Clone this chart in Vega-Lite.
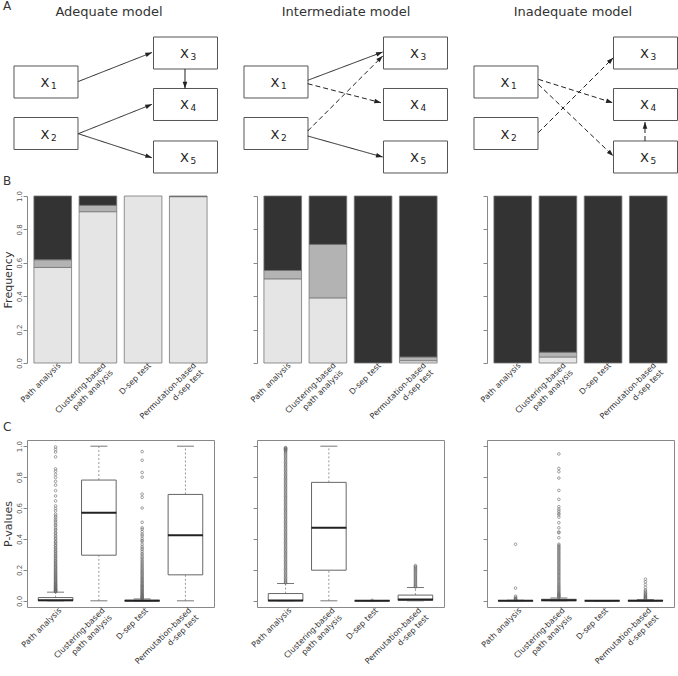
{
  "$schema": "https://vega.github.io/schema/vega-lite/v6.json",
  "background": "white",
  "padding": {"left": 1, "top": 0, "right": 0, "bottom": 0},
  "title": {"text": "A", "anchor": "start", "frame": "group", "dx": -24, "offset": -12, "fontSize": 12, "fontWeight": "normal", "color": "#333"},
  "columns": 3,
  "spacing": {"row": 77, "column": 43},
  "bounds": "flush",
  "align": "each",
  "datasets": {
    "nodes": [
      {"node": "X1", "var": "X", "sub": "1", "x": 10.16, "y": 68.64},
      {"node": "X2", "var": "X", "sub": "2", "x": 10.16, "y": 112.29},
      {"node": "X3", "var": "X", "sub": "3", "x": 84.76, "y": 44.07},
      {"node": "X4", "var": "X", "sub": "4", "x": 84.76, "y": 87.71},
      {"node": "X5", "var": "X", "sub": "5", "x": 84.76, "y": 132.2}
    ],
    "edges": [
      {"model": "Adequate", "from": "X1", "to": "X3", "x": 27.43, "y": 68.22, "x2": 66.84, "y2": 43.64, "style": "solid", "angle": 68.5},
      {"model": "Adequate", "from": "X2", "to": "X4", "x": 27.43, "y": 112.46, "x2": 66.84, "y2": 87.54, "style": "solid", "angle": 68.2},
      {"model": "Adequate", "from": "X2", "to": "X5", "x": 27.43, "y": 112.46, "x2": 66.84, "y2": 132.8, "style": "solid", "angle": 108.0},
      {"model": "Adequate", "from": "X3", "to": "X4", "x": 84.49, "y": 57.63, "x2": 84.49, "y2": 74.15, "style": "solid", "angle": 180},
      {"model": "Intermediate", "from": "X1", "to": "X3", "x": 27.11, "y": 67.2, "x2": 67.22, "y2": 43.22, "style": "solid", "angle": 69.3},
      {"model": "Intermediate", "from": "X1", "to": "X4", "x": 27.11, "y": 70.08, "x2": 66.31, "y2": 86.19, "style": "dashed", "angle": 104.5},
      {"model": "Intermediate", "from": "X2", "to": "X3", "x": 27.11, "y": 110.17, "x2": 67.22, "y2": 46.61, "style": "dashed", "angle": 45},
      {"model": "Intermediate", "from": "X2", "to": "X5", "x": 27.11, "y": 114.41, "x2": 67.22, "y2": 132.2, "style": "solid", "angle": 105.6},
      {"model": "Inadequate", "from": "X1", "to": "X4", "x": 27.43, "y": 66.36, "x2": 67.22, "y2": 86.19, "style": "dashed", "angle": 107.5},
      {"model": "Inadequate", "from": "X1", "to": "X5", "x": 27.43, "y": 70.59, "x2": 67.54, "y2": 131.36, "style": "dashed", "angle": 133.7},
      {"model": "Inadequate", "from": "X2", "to": "X3", "x": 27.43, "y": 111.61, "x2": 67.54, "y2": 48.05, "style": "dashed", "angle": 45},
      {"model": "Inadequate", "from": "X5", "to": "X4", "x": 84.49, "y": 118.64, "x2": 84.49, "y2": 102.54, "style": "dashed", "angle": 0}
    ],
    "freq": [
      {"model": "Adequate", "method": "Path analysis", "outcome": "Accepted", "freq": 0.572},
      {"model": "Adequate", "method": "Path analysis", "outcome": "Borderline", "freq": 0.046},
      {"model": "Adequate", "method": "Path analysis", "outcome": "Rejected", "freq": 0.382},
      {"model": "Adequate", "method": "Clustering-based path analysis", "outcome": "Accepted", "freq": 0.906},
      {"model": "Adequate", "method": "Clustering-based path analysis", "outcome": "Borderline", "freq": 0.038},
      {"model": "Adequate", "method": "Clustering-based path analysis", "outcome": "Rejected", "freq": 0.056},
      {"model": "Adequate", "method": "D-sep test", "outcome": "Accepted", "freq": 1.0},
      {"model": "Adequate", "method": "Permutation-based d-sep test", "outcome": "Accepted", "freq": 0.996},
      {"model": "Adequate", "method": "Permutation-based d-sep test", "outcome": "Rejected", "freq": 0.004},
      {"model": "Intermediate", "method": "Path analysis", "outcome": "Accepted", "freq": 0.504},
      {"model": "Intermediate", "method": "Path analysis", "outcome": "Borderline", "freq": 0.05},
      {"model": "Intermediate", "method": "Path analysis", "outcome": "Rejected", "freq": 0.446},
      {"model": "Intermediate", "method": "Clustering-based path analysis", "outcome": "Accepted", "freq": 0.39},
      {"model": "Intermediate", "method": "Clustering-based path analysis", "outcome": "Borderline", "freq": 0.32},
      {"model": "Intermediate", "method": "Clustering-based path analysis", "outcome": "Rejected", "freq": 0.29},
      {"model": "Intermediate", "method": "D-sep test", "outcome": "Rejected", "freq": 1.0},
      {"model": "Intermediate", "method": "Permutation-based d-sep test", "outcome": "Accepted", "freq": 0.014},
      {"model": "Intermediate", "method": "Permutation-based d-sep test", "outcome": "Borderline", "freq": 0.022},
      {"model": "Intermediate", "method": "Permutation-based d-sep test", "outcome": "Rejected", "freq": 0.964},
      {"model": "Inadequate", "method": "Path analysis", "outcome": "Rejected", "freq": 1.0},
      {"model": "Inadequate", "method": "Clustering-based path analysis", "outcome": "Accepted", "freq": 0.036},
      {"model": "Inadequate", "method": "Clustering-based path analysis", "outcome": "Borderline", "freq": 0.028},
      {"model": "Inadequate", "method": "Clustering-based path analysis", "outcome": "Rejected", "freq": 0.936},
      {"model": "Inadequate", "method": "D-sep test", "outcome": "Rejected", "freq": 1.0},
      {"model": "Inadequate", "method": "Permutation-based d-sep test", "outcome": "Rejected", "freq": 1.0}
    ],
    "box": [
      {"model": "Adequate", "method": "Path analysis", "lower": 0, "q1": 0.001, "median": 0.004, "q3": 0.021, "upper": 0.056},
      {"model": "Adequate", "method": "Clustering-based path analysis", "lower": 0, "q1": 0.295, "median": 0.57, "q3": 0.781, "upper": 1.0},
      {"model": "Adequate", "method": "D-sep test", "lower": 0, "q1": 0.0, "median": 0.001, "q3": 0.004, "upper": 0.012},
      {"model": "Adequate", "method": "Permutation-based d-sep test", "lower": 0, "q1": 0.168, "median": 0.424, "q3": 0.688, "upper": 1.0},
      {"model": "Intermediate", "method": "Path analysis", "lower": 0, "q1": 0.0, "median": 0.002, "q3": 0.047, "upper": 0.112},
      {"model": "Intermediate", "method": "Clustering-based path analysis", "lower": 0, "q1": 0.198, "median": 0.473, "q3": 0.766, "upper": 1.0},
      {"model": "Intermediate", "method": "D-sep test", "lower": 0, "q1": 0, "median": 0, "q3": 0.001, "upper": 0.002},
      {"model": "Intermediate", "method": "Permutation-based d-sep test", "lower": 0, "q1": 0.003, "median": 0.009, "q3": 0.037, "upper": 0.086},
      {"model": "Inadequate", "method": "Path analysis", "lower": 0, "q1": 0, "median": 0, "q3": 0.002, "upper": 0.004},
      {"model": "Inadequate", "method": "Clustering-based path analysis", "lower": 0, "q1": 0.001, "median": 0.004, "q3": 0.01, "upper": 0.019},
      {"model": "Inadequate", "method": "D-sep test", "lower": 0, "q1": 0, "median": 0, "q3": 0, "upper": 0},
      {"model": "Inadequate", "method": "Permutation-based d-sep test", "lower": 0, "q1": 0, "median": 0.001, "q3": 0.003, "upper": 0.008}
    ],
    "outliers": [
      {"model": "Adequate", "method": "Path analysis", "p": 0.995},
      {"model": "Adequate", "method": "Path analysis", "p": 0.979},
      {"model": "Adequate", "method": "Path analysis", "p": 0.962},
      {"model": "Adequate", "method": "Path analysis", "p": 0.931},
      {"model": "Adequate", "method": "Path analysis", "p": 0.853},
      {"model": "Adequate", "method": "Path analysis", "p": 0.838},
      {"model": "Adequate", "method": "Path analysis", "p": 0.818},
      {"model": "Adequate", "method": "Path analysis", "p": 0.797},
      {"model": "Adequate", "method": "Path analysis", "p": 0.772},
      {"model": "Adequate", "method": "Path analysis", "p": 0.748},
      {"model": "Adequate", "method": "Path analysis", "p": 0.713},
      {"model": "Adequate", "method": "Path analysis", "p": 0.678},
      {"model": "Adequate", "method": "Path analysis", "p": 0.646},
      {"model": "Adequate", "method": "Path analysis", "p": 0.614},
      {"model": "Adequate", "method": "Path analysis", "p": 0.597},
      {"model": "Adequate", "method": "Path analysis", "p": 0.582},
      {"model": "Adequate", "method": "Path analysis", "p": 0.561},
      {"model": "Adequate", "method": "Path analysis", "p": 0.548},
      {"model": "Adequate", "method": "Path analysis", "p": 0.539},
      {"model": "Adequate", "method": "Path analysis", "p": 0.526},
      {"model": "Adequate", "method": "Path analysis", "p": 0.517},
      {"model": "Adequate", "method": "Path analysis", "p": 0.506},
      {"model": "Adequate", "method": "Path analysis", "p": 0.494},
      {"model": "Adequate", "method": "Path analysis", "p": 0.486},
      {"model": "Adequate", "method": "Path analysis", "p": 0.473},
      {"model": "Adequate", "method": "Path analysis", "p": 0.462},
      {"model": "Adequate", "method": "Path analysis", "p": 0.455},
      {"model": "Adequate", "method": "Path analysis", "p": 0.441},
      {"model": "Adequate", "method": "Path analysis", "p": 0.436},
      {"model": "Adequate", "method": "Path analysis", "p": 0.423},
      {"model": "Adequate", "method": "Path analysis", "p": 0.416},
      {"model": "Adequate", "method": "Path analysis", "p": 0.404},
      {"model": "Adequate", "method": "Path analysis", "p": 0.398},
      {"model": "Adequate", "method": "Path analysis", "p": 0.386},
      {"model": "Adequate", "method": "Path analysis", "p": 0.379},
      {"model": "Adequate", "method": "Path analysis", "p": 0.372},
      {"model": "Adequate", "method": "Path analysis", "p": 0.361},
      {"model": "Adequate", "method": "Path analysis", "p": 0.356},
      {"model": "Adequate", "method": "Path analysis", "p": 0.345},
      {"model": "Adequate", "method": "Path analysis", "p": 0.339},
      {"model": "Adequate", "method": "Path analysis", "p": 0.332},
      {"model": "Adequate", "method": "Path analysis", "p": 0.322},
      {"model": "Adequate", "method": "Path analysis", "p": 0.317},
      {"model": "Adequate", "method": "Path analysis", "p": 0.308},
      {"model": "Adequate", "method": "Path analysis", "p": 0.302},
      {"model": "Adequate", "method": "Path analysis", "p": 0.293},
      {"model": "Adequate", "method": "Path analysis", "p": 0.288},
      {"model": "Adequate", "method": "Path analysis", "p": 0.279},
      {"model": "Adequate", "method": "Path analysis", "p": 0.274},
      {"model": "Adequate", "method": "Path analysis", "p": 0.265},
      {"model": "Adequate", "method": "Path analysis", "p": 0.258},
      {"model": "Adequate", "method": "Path analysis", "p": 0.254},
      {"model": "Adequate", "method": "Path analysis", "p": 0.245},
      {"model": "Adequate", "method": "Path analysis", "p": 0.24},
      {"model": "Adequate", "method": "Path analysis", "p": 0.232},
      {"model": "Adequate", "method": "Path analysis", "p": 0.228},
      {"model": "Adequate", "method": "Path analysis", "p": 0.22},
      {"model": "Adequate", "method": "Path analysis", "p": 0.214},
      {"model": "Adequate", "method": "Path analysis", "p": 0.21},
      {"model": "Adequate", "method": "Path analysis", "p": 0.203},
      {"model": "Adequate", "method": "Path analysis", "p": 0.196},
      {"model": "Adequate", "method": "Path analysis", "p": 0.192},
      {"model": "Adequate", "method": "Path analysis", "p": 0.185},
      {"model": "Adequate", "method": "Path analysis", "p": 0.181},
      {"model": "Adequate", "method": "Path analysis", "p": 0.174},
      {"model": "Adequate", "method": "Path analysis", "p": 0.17},
      {"model": "Adequate", "method": "Path analysis", "p": 0.163},
      {"model": "Adequate", "method": "Path analysis", "p": 0.16},
      {"model": "Adequate", "method": "Path analysis", "p": 0.153},
      {"model": "Adequate", "method": "Path analysis", "p": 0.149},
      {"model": "Adequate", "method": "Path analysis", "p": 0.143},
      {"model": "Adequate", "method": "Path analysis", "p": 0.139},
      {"model": "Adequate", "method": "Path analysis", "p": 0.135},
      {"model": "Adequate", "method": "Path analysis", "p": 0.128},
      {"model": "Adequate", "method": "Path analysis", "p": 0.124},
      {"model": "Adequate", "method": "Path analysis", "p": 0.121},
      {"model": "Adequate", "method": "Path analysis", "p": 0.115},
      {"model": "Adequate", "method": "Path analysis", "p": 0.111},
      {"model": "Adequate", "method": "Path analysis", "p": 0.107},
      {"model": "Adequate", "method": "Path analysis", "p": 0.103},
      {"model": "Adequate", "method": "Path analysis", "p": 0.099},
      {"model": "Adequate", "method": "Path analysis", "p": 0.095},
      {"model": "Adequate", "method": "Path analysis", "p": 0.091},
      {"model": "Adequate", "method": "Path analysis", "p": 0.088},
      {"model": "Adequate", "method": "Path analysis", "p": 0.084},
      {"model": "Adequate", "method": "Path analysis", "p": 0.08},
      {"model": "Adequate", "method": "Path analysis", "p": 0.077},
      {"model": "Adequate", "method": "Path analysis", "p": 0.074},
      {"model": "Adequate", "method": "Path analysis", "p": 0.071},
      {"model": "Adequate", "method": "Path analysis", "p": 0.068},
      {"model": "Adequate", "method": "Path analysis", "p": 0.065},
      {"model": "Adequate", "method": "Path analysis", "p": 0.062},
      {"model": "Adequate", "method": "Path analysis", "p": 0.06},
      {"model": "Adequate", "method": "Path analysis", "p": 0.058},
      {"model": "Adequate", "method": "D-sep test", "p": 0.965},
      {"model": "Adequate", "method": "D-sep test", "p": 0.909},
      {"model": "Adequate", "method": "D-sep test", "p": 0.83},
      {"model": "Adequate", "method": "D-sep test", "p": 0.8},
      {"model": "Adequate", "method": "D-sep test", "p": 0.69},
      {"model": "Adequate", "method": "D-sep test", "p": 0.669},
      {"model": "Adequate", "method": "D-sep test", "p": 0.6},
      {"model": "Adequate", "method": "D-sep test", "p": 0.508},
      {"model": "Adequate", "method": "D-sep test", "p": 0.472},
      {"model": "Adequate", "method": "D-sep test", "p": 0.463},
      {"model": "Adequate", "method": "D-sep test", "p": 0.447},
      {"model": "Adequate", "method": "D-sep test", "p": 0.431},
      {"model": "Adequate", "method": "D-sep test", "p": 0.42},
      {"model": "Adequate", "method": "D-sep test", "p": 0.404},
      {"model": "Adequate", "method": "D-sep test", "p": 0.391},
      {"model": "Adequate", "method": "D-sep test", "p": 0.383},
      {"model": "Adequate", "method": "D-sep test", "p": 0.366},
      {"model": "Adequate", "method": "D-sep test", "p": 0.352},
      {"model": "Adequate", "method": "D-sep test", "p": 0.341},
      {"model": "Adequate", "method": "D-sep test", "p": 0.33},
      {"model": "Adequate", "method": "D-sep test", "p": 0.318},
      {"model": "Adequate", "method": "D-sep test", "p": 0.305},
      {"model": "Adequate", "method": "D-sep test", "p": 0.297},
      {"model": "Adequate", "method": "D-sep test", "p": 0.284},
      {"model": "Adequate", "method": "D-sep test", "p": 0.276},
      {"model": "Adequate", "method": "D-sep test", "p": 0.265},
      {"model": "Adequate", "method": "D-sep test", "p": 0.256},
      {"model": "Adequate", "method": "D-sep test", "p": 0.247},
      {"model": "Adequate", "method": "D-sep test", "p": 0.238},
      {"model": "Adequate", "method": "D-sep test", "p": 0.229},
      {"model": "Adequate", "method": "D-sep test", "p": 0.221},
      {"model": "Adequate", "method": "D-sep test", "p": 0.212},
      {"model": "Adequate", "method": "D-sep test", "p": 0.204},
      {"model": "Adequate", "method": "D-sep test", "p": 0.197},
      {"model": "Adequate", "method": "D-sep test", "p": 0.188},
      {"model": "Adequate", "method": "D-sep test", "p": 0.182},
      {"model": "Adequate", "method": "D-sep test", "p": 0.174},
      {"model": "Adequate", "method": "D-sep test", "p": 0.167},
      {"model": "Adequate", "method": "D-sep test", "p": 0.159},
      {"model": "Adequate", "method": "D-sep test", "p": 0.152},
      {"model": "Adequate", "method": "D-sep test", "p": 0.146},
      {"model": "Adequate", "method": "D-sep test", "p": 0.139},
      {"model": "Adequate", "method": "D-sep test", "p": 0.132},
      {"model": "Adequate", "method": "D-sep test", "p": 0.126},
      {"model": "Adequate", "method": "D-sep test", "p": 0.12},
      {"model": "Adequate", "method": "D-sep test", "p": 0.113},
      {"model": "Adequate", "method": "D-sep test", "p": 0.107},
      {"model": "Adequate", "method": "D-sep test", "p": 0.101},
      {"model": "Adequate", "method": "D-sep test", "p": 0.096},
      {"model": "Adequate", "method": "D-sep test", "p": 0.09},
      {"model": "Adequate", "method": "D-sep test", "p": 0.085},
      {"model": "Adequate", "method": "D-sep test", "p": 0.079},
      {"model": "Adequate", "method": "D-sep test", "p": 0.074},
      {"model": "Adequate", "method": "D-sep test", "p": 0.069},
      {"model": "Adequate", "method": "D-sep test", "p": 0.064},
      {"model": "Adequate", "method": "D-sep test", "p": 0.059},
      {"model": "Adequate", "method": "D-sep test", "p": 0.054},
      {"model": "Adequate", "method": "D-sep test", "p": 0.049},
      {"model": "Adequate", "method": "D-sep test", "p": 0.045},
      {"model": "Adequate", "method": "D-sep test", "p": 0.04},
      {"model": "Adequate", "method": "D-sep test", "p": 0.036},
      {"model": "Adequate", "method": "D-sep test", "p": 0.032},
      {"model": "Adequate", "method": "D-sep test", "p": 0.028},
      {"model": "Adequate", "method": "D-sep test", "p": 0.024},
      {"model": "Adequate", "method": "D-sep test", "p": 0.021},
      {"model": "Adequate", "method": "D-sep test", "p": 0.018},
      {"model": "Adequate", "method": "D-sep test", "p": 0.015},
      {"model": "Adequate", "method": "D-sep test", "p": 0.013},
      {"model": "Intermediate", "method": "Path analysis", "p": 0.991},
      {"model": "Intermediate", "method": "Path analysis", "p": 0.988},
      {"model": "Intermediate", "method": "Path analysis", "p": 0.985},
      {"model": "Intermediate", "method": "Path analysis", "p": 0.981},
      {"model": "Intermediate", "method": "Path analysis", "p": 0.978},
      {"model": "Intermediate", "method": "Path analysis", "p": 0.974},
      {"model": "Intermediate", "method": "Path analysis", "p": 0.969},
      {"model": "Intermediate", "method": "Path analysis", "p": 0.962},
      {"model": "Intermediate", "method": "Path analysis", "p": 0.955},
      {"model": "Intermediate", "method": "Path analysis", "p": 0.946},
      {"model": "Intermediate", "method": "Path analysis", "p": 0.938},
      {"model": "Intermediate", "method": "Path analysis", "p": 0.929},
      {"model": "Intermediate", "method": "Path analysis", "p": 0.921},
      {"model": "Intermediate", "method": "Path analysis", "p": 0.912},
      {"model": "Intermediate", "method": "Path analysis", "p": 0.903},
      {"model": "Intermediate", "method": "Path analysis", "p": 0.895},
      {"model": "Intermediate", "method": "Path analysis", "p": 0.886},
      {"model": "Intermediate", "method": "Path analysis", "p": 0.878},
      {"model": "Intermediate", "method": "Path analysis", "p": 0.869},
      {"model": "Intermediate", "method": "Path analysis", "p": 0.861},
      {"model": "Intermediate", "method": "Path analysis", "p": 0.852},
      {"model": "Intermediate", "method": "Path analysis", "p": 0.844},
      {"model": "Intermediate", "method": "Path analysis", "p": 0.835},
      {"model": "Intermediate", "method": "Path analysis", "p": 0.826},
      {"model": "Intermediate", "method": "Path analysis", "p": 0.818},
      {"model": "Intermediate", "method": "Path analysis", "p": 0.809},
      {"model": "Intermediate", "method": "Path analysis", "p": 0.801},
      {"model": "Intermediate", "method": "Path analysis", "p": 0.792},
      {"model": "Intermediate", "method": "Path analysis", "p": 0.784},
      {"model": "Intermediate", "method": "Path analysis", "p": 0.776},
      {"model": "Intermediate", "method": "Path analysis", "p": 0.767},
      {"model": "Intermediate", "method": "Path analysis", "p": 0.759},
      {"model": "Intermediate", "method": "Path analysis", "p": 0.75},
      {"model": "Intermediate", "method": "Path analysis", "p": 0.742},
      {"model": "Intermediate", "method": "Path analysis", "p": 0.733},
      {"model": "Intermediate", "method": "Path analysis", "p": 0.725},
      {"model": "Intermediate", "method": "Path analysis", "p": 0.716},
      {"model": "Intermediate", "method": "Path analysis", "p": 0.708},
      {"model": "Intermediate", "method": "Path analysis", "p": 0.699},
      {"model": "Intermediate", "method": "Path analysis", "p": 0.691},
      {"model": "Intermediate", "method": "Path analysis", "p": 0.682},
      {"model": "Intermediate", "method": "Path analysis", "p": 0.674},
      {"model": "Intermediate", "method": "Path analysis", "p": 0.666},
      {"model": "Intermediate", "method": "Path analysis", "p": 0.657},
      {"model": "Intermediate", "method": "Path analysis", "p": 0.649},
      {"model": "Intermediate", "method": "Path analysis", "p": 0.64},
      {"model": "Intermediate", "method": "Path analysis", "p": 0.632},
      {"model": "Intermediate", "method": "Path analysis", "p": 0.623},
      {"model": "Intermediate", "method": "Path analysis", "p": 0.615},
      {"model": "Intermediate", "method": "Path analysis", "p": 0.606},
      {"model": "Intermediate", "method": "Path analysis", "p": 0.598},
      {"model": "Intermediate", "method": "Path analysis", "p": 0.589},
      {"model": "Intermediate", "method": "Path analysis", "p": 0.581},
      {"model": "Intermediate", "method": "Path analysis", "p": 0.573},
      {"model": "Intermediate", "method": "Path analysis", "p": 0.564},
      {"model": "Intermediate", "method": "Path analysis", "p": 0.556},
      {"model": "Intermediate", "method": "Path analysis", "p": 0.547},
      {"model": "Intermediate", "method": "Path analysis", "p": 0.539},
      {"model": "Intermediate", "method": "Path analysis", "p": 0.53},
      {"model": "Intermediate", "method": "Path analysis", "p": 0.522},
      {"model": "Intermediate", "method": "Path analysis", "p": 0.513},
      {"model": "Intermediate", "method": "Path analysis", "p": 0.505},
      {"model": "Intermediate", "method": "Path analysis", "p": 0.497},
      {"model": "Intermediate", "method": "Path analysis", "p": 0.488},
      {"model": "Intermediate", "method": "Path analysis", "p": 0.48},
      {"model": "Intermediate", "method": "Path analysis", "p": 0.471},
      {"model": "Intermediate", "method": "Path analysis", "p": 0.463},
      {"model": "Intermediate", "method": "Path analysis", "p": 0.454},
      {"model": "Intermediate", "method": "Path analysis", "p": 0.446},
      {"model": "Intermediate", "method": "Path analysis", "p": 0.437},
      {"model": "Intermediate", "method": "Path analysis", "p": 0.429},
      {"model": "Intermediate", "method": "Path analysis", "p": 0.421},
      {"model": "Intermediate", "method": "Path analysis", "p": 0.412},
      {"model": "Intermediate", "method": "Path analysis", "p": 0.404},
      {"model": "Intermediate", "method": "Path analysis", "p": 0.395},
      {"model": "Intermediate", "method": "Path analysis", "p": 0.387},
      {"model": "Intermediate", "method": "Path analysis", "p": 0.378},
      {"model": "Intermediate", "method": "Path analysis", "p": 0.37},
      {"model": "Intermediate", "method": "Path analysis", "p": 0.362},
      {"model": "Intermediate", "method": "Path analysis", "p": 0.353},
      {"model": "Intermediate", "method": "Path analysis", "p": 0.345},
      {"model": "Intermediate", "method": "Path analysis", "p": 0.336},
      {"model": "Intermediate", "method": "Path analysis", "p": 0.328},
      {"model": "Intermediate", "method": "Path analysis", "p": 0.319},
      {"model": "Intermediate", "method": "Path analysis", "p": 0.311},
      {"model": "Intermediate", "method": "Path analysis", "p": 0.303},
      {"model": "Intermediate", "method": "Path analysis", "p": 0.294},
      {"model": "Intermediate", "method": "Path analysis", "p": 0.286},
      {"model": "Intermediate", "method": "Path analysis", "p": 0.277},
      {"model": "Intermediate", "method": "Path analysis", "p": 0.269},
      {"model": "Intermediate", "method": "Path analysis", "p": 0.26},
      {"model": "Intermediate", "method": "Path analysis", "p": 0.252},
      {"model": "Intermediate", "method": "Path analysis", "p": 0.244},
      {"model": "Intermediate", "method": "Path analysis", "p": 0.235},
      {"model": "Intermediate", "method": "Path analysis", "p": 0.227},
      {"model": "Intermediate", "method": "Path analysis", "p": 0.218},
      {"model": "Intermediate", "method": "Path analysis", "p": 0.21},
      {"model": "Intermediate", "method": "Path analysis", "p": 0.202},
      {"model": "Intermediate", "method": "Path analysis", "p": 0.193},
      {"model": "Intermediate", "method": "Path analysis", "p": 0.185},
      {"model": "Intermediate", "method": "Path analysis", "p": 0.176},
      {"model": "Intermediate", "method": "Path analysis", "p": 0.168},
      {"model": "Intermediate", "method": "Path analysis", "p": 0.16},
      {"model": "Intermediate", "method": "Path analysis", "p": 0.151},
      {"model": "Intermediate", "method": "Path analysis", "p": 0.143},
      {"model": "Intermediate", "method": "Path analysis", "p": 0.135},
      {"model": "Intermediate", "method": "Path analysis", "p": 0.127},
      {"model": "Intermediate", "method": "Path analysis", "p": 0.12},
      {"model": "Intermediate", "method": "Path analysis", "p": 0.115},
      {"model": "Intermediate", "method": "D-sep test", "p": 0.003},
      {"model": "Intermediate", "method": "Permutation-based d-sep test", "p": 0.228},
      {"model": "Intermediate", "method": "Permutation-based d-sep test", "p": 0.222},
      {"model": "Intermediate", "method": "Permutation-based d-sep test", "p": 0.216},
      {"model": "Intermediate", "method": "Permutation-based d-sep test", "p": 0.21},
      {"model": "Intermediate", "method": "Permutation-based d-sep test", "p": 0.203},
      {"model": "Intermediate", "method": "Permutation-based d-sep test", "p": 0.197},
      {"model": "Intermediate", "method": "Permutation-based d-sep test", "p": 0.19},
      {"model": "Intermediate", "method": "Permutation-based d-sep test", "p": 0.183},
      {"model": "Intermediate", "method": "Permutation-based d-sep test", "p": 0.176},
      {"model": "Intermediate", "method": "Permutation-based d-sep test", "p": 0.169},
      {"model": "Intermediate", "method": "Permutation-based d-sep test", "p": 0.162},
      {"model": "Intermediate", "method": "Permutation-based d-sep test", "p": 0.155},
      {"model": "Intermediate", "method": "Permutation-based d-sep test", "p": 0.148},
      {"model": "Intermediate", "method": "Permutation-based d-sep test", "p": 0.141},
      {"model": "Intermediate", "method": "Permutation-based d-sep test", "p": 0.134},
      {"model": "Intermediate", "method": "Permutation-based d-sep test", "p": 0.127},
      {"model": "Intermediate", "method": "Permutation-based d-sep test", "p": 0.12},
      {"model": "Intermediate", "method": "Permutation-based d-sep test", "p": 0.113},
      {"model": "Intermediate", "method": "Permutation-based d-sep test", "p": 0.106},
      {"model": "Intermediate", "method": "Permutation-based d-sep test", "p": 0.099},
      {"model": "Intermediate", "method": "Permutation-based d-sep test", "p": 0.093},
      {"model": "Intermediate", "method": "Permutation-based d-sep test", "p": 0.089},
      {"model": "Inadequate", "method": "Path analysis", "p": 0.366},
      {"model": "Inadequate", "method": "Path analysis", "p": 0.082},
      {"model": "Inadequate", "method": "Path analysis", "p": 0.03},
      {"model": "Inadequate", "method": "Path analysis", "p": 0.022},
      {"model": "Inadequate", "method": "Path analysis", "p": 0.016},
      {"model": "Inadequate", "method": "Path analysis", "p": 0.012},
      {"model": "Inadequate", "method": "Path analysis", "p": 0.009},
      {"model": "Inadequate", "method": "Path analysis", "p": 0.007},
      {"model": "Inadequate", "method": "Clustering-based path analysis", "p": 0.95},
      {"model": "Inadequate", "method": "Clustering-based path analysis", "p": 0.856},
      {"model": "Inadequate", "method": "Clustering-based path analysis", "p": 0.835},
      {"model": "Inadequate", "method": "Clustering-based path analysis", "p": 0.794},
      {"model": "Inadequate", "method": "Clustering-based path analysis", "p": 0.714},
      {"model": "Inadequate", "method": "Clustering-based path analysis", "p": 0.656},
      {"model": "Inadequate", "method": "Clustering-based path analysis", "p": 0.609},
      {"model": "Inadequate", "method": "Clustering-based path analysis", "p": 0.593},
      {"model": "Inadequate", "method": "Clustering-based path analysis", "p": 0.58},
      {"model": "Inadequate", "method": "Clustering-based path analysis", "p": 0.566},
      {"model": "Inadequate", "method": "Clustering-based path analysis", "p": 0.557},
      {"model": "Inadequate", "method": "Clustering-based path analysis", "p": 0.541},
      {"model": "Inadequate", "method": "Clustering-based path analysis", "p": 0.505},
      {"model": "Inadequate", "method": "Clustering-based path analysis", "p": 0.472},
      {"model": "Inadequate", "method": "Clustering-based path analysis", "p": 0.445},
      {"model": "Inadequate", "method": "Clustering-based path analysis", "p": 0.44},
      {"model": "Inadequate", "method": "Clustering-based path analysis", "p": 0.408},
      {"model": "Inadequate", "method": "Clustering-based path analysis", "p": 0.366},
      {"model": "Inadequate", "method": "Clustering-based path analysis", "p": 0.358},
      {"model": "Inadequate", "method": "Clustering-based path analysis", "p": 0.35},
      {"model": "Inadequate", "method": "Clustering-based path analysis", "p": 0.343},
      {"model": "Inadequate", "method": "Clustering-based path analysis", "p": 0.335},
      {"model": "Inadequate", "method": "Clustering-based path analysis", "p": 0.327},
      {"model": "Inadequate", "method": "Clustering-based path analysis", "p": 0.318},
      {"model": "Inadequate", "method": "Clustering-based path analysis", "p": 0.31},
      {"model": "Inadequate", "method": "Clustering-based path analysis", "p": 0.302},
      {"model": "Inadequate", "method": "Clustering-based path analysis", "p": 0.294},
      {"model": "Inadequate", "method": "Clustering-based path analysis", "p": 0.285},
      {"model": "Inadequate", "method": "Clustering-based path analysis", "p": 0.277},
      {"model": "Inadequate", "method": "Clustering-based path analysis", "p": 0.269},
      {"model": "Inadequate", "method": "Clustering-based path analysis", "p": 0.261},
      {"model": "Inadequate", "method": "Clustering-based path analysis", "p": 0.252},
      {"model": "Inadequate", "method": "Clustering-based path analysis", "p": 0.244},
      {"model": "Inadequate", "method": "Clustering-based path analysis", "p": 0.236},
      {"model": "Inadequate", "method": "Clustering-based path analysis", "p": 0.228},
      {"model": "Inadequate", "method": "Clustering-based path analysis", "p": 0.219},
      {"model": "Inadequate", "method": "Clustering-based path analysis", "p": 0.211},
      {"model": "Inadequate", "method": "Clustering-based path analysis", "p": 0.203},
      {"model": "Inadequate", "method": "Clustering-based path analysis", "p": 0.195},
      {"model": "Inadequate", "method": "Clustering-based path analysis", "p": 0.186},
      {"model": "Inadequate", "method": "Clustering-based path analysis", "p": 0.178},
      {"model": "Inadequate", "method": "Clustering-based path analysis", "p": 0.17},
      {"model": "Inadequate", "method": "Clustering-based path analysis", "p": 0.162},
      {"model": "Inadequate", "method": "Clustering-based path analysis", "p": 0.153},
      {"model": "Inadequate", "method": "Clustering-based path analysis", "p": 0.145},
      {"model": "Inadequate", "method": "Clustering-based path analysis", "p": 0.137},
      {"model": "Inadequate", "method": "Clustering-based path analysis", "p": 0.129},
      {"model": "Inadequate", "method": "Clustering-based path analysis", "p": 0.12},
      {"model": "Inadequate", "method": "Clustering-based path analysis", "p": 0.112},
      {"model": "Inadequate", "method": "Clustering-based path analysis", "p": 0.104},
      {"model": "Inadequate", "method": "Clustering-based path analysis", "p": 0.096},
      {"model": "Inadequate", "method": "Clustering-based path analysis", "p": 0.089},
      {"model": "Inadequate", "method": "Clustering-based path analysis", "p": 0.082},
      {"model": "Inadequate", "method": "Clustering-based path analysis", "p": 0.075},
      {"model": "Inadequate", "method": "Clustering-based path analysis", "p": 0.068},
      {"model": "Inadequate", "method": "Clustering-based path analysis", "p": 0.061},
      {"model": "Inadequate", "method": "Clustering-based path analysis", "p": 0.055},
      {"model": "Inadequate", "method": "Clustering-based path analysis", "p": 0.049},
      {"model": "Inadequate", "method": "Clustering-based path analysis", "p": 0.044},
      {"model": "Inadequate", "method": "Clustering-based path analysis", "p": 0.039},
      {"model": "Inadequate", "method": "Clustering-based path analysis", "p": 0.034},
      {"model": "Inadequate", "method": "Clustering-based path analysis", "p": 0.03},
      {"model": "Inadequate", "method": "Clustering-based path analysis", "p": 0.026},
      {"model": "Inadequate", "method": "Clustering-based path analysis", "p": 0.022},
      {"model": "Inadequate", "method": "Permutation-based d-sep test", "p": 0.14},
      {"model": "Inadequate", "method": "Permutation-based d-sep test", "p": 0.123},
      {"model": "Inadequate", "method": "Permutation-based d-sep test", "p": 0.105},
      {"model": "Inadequate", "method": "Permutation-based d-sep test", "p": 0.086},
      {"model": "Inadequate", "method": "Permutation-based d-sep test", "p": 0.07},
      {"model": "Inadequate", "method": "Permutation-based d-sep test", "p": 0.062},
      {"model": "Inadequate", "method": "Permutation-based d-sep test", "p": 0.054},
      {"model": "Inadequate", "method": "Permutation-based d-sep test", "p": 0.047},
      {"model": "Inadequate", "method": "Permutation-based d-sep test", "p": 0.041},
      {"model": "Inadequate", "method": "Permutation-based d-sep test", "p": 0.036},
      {"model": "Inadequate", "method": "Permutation-based d-sep test", "p": 0.031},
      {"model": "Inadequate", "method": "Permutation-based d-sep test", "p": 0.026},
      {"model": "Inadequate", "method": "Permutation-based d-sep test", "p": 0.022},
      {"model": "Inadequate", "method": "Permutation-based d-sep test", "p": 0.018},
      {"model": "Inadequate", "method": "Permutation-based d-sep test", "p": 0.014},
      {"model": "Inadequate", "method": "Permutation-based d-sep test", "p": 0.011}
    ]
  },
  "concat": [
    {
      "width": 187, "height": 118,
      "title": {"text": "Adequate model", "anchor": "middle", "frame": "group", "dx": -11.5, "offset": -18, "fontSize": 13, "fontWeight": "normal", "color": "#333"},
      "layer": [
        {"data": {"name": "nodes"}, "mark": {"type": "point", "shape": "M-1,-0.5L1,-0.5L1,0.5L-1,0.5Z", "size": 4096, "filled": true, "fill": "white", "stroke": "#555", "strokeWidth": 1, "opacity": 1},
         "encoding": {"x": {"field": "x", "type": "quantitative", "scale": {"domain": [0, 100]}, "axis": null}, "y": {"field": "y", "type": "quantitative", "scale": {"domain": [0, 100], "reverse": true}, "axis": null}}},
        {"data": {"name": "nodes"}, "mark": {"type": "text", "fontSize": 13, "color": "#222", "align": "center", "baseline": "alphabetic", "dx": -1, "dy": 5},
         "encoding": {"x": {"field": "x", "type": "quantitative"}, "y": {"field": "y", "type": "quantitative"}, "text": {"field": "var"}}},
        {"data": {"name": "nodes"}, "mark": {"type": "text", "fontSize": 9, "color": "#222", "align": "left", "baseline": "alphabetic", "dx": 5, "dy": 7},
         "encoding": {"x": {"field": "x", "type": "quantitative"}, "y": {"field": "y", "type": "quantitative"}, "text": {"field": "sub"}}},
        {"data": {"name": "edges"}, "transform": [{"filter": "datum.model == 'Adequate'"}], "mark": {"type": "rule", "color": "#222", "strokeWidth": 1},
         "encoding": {"x": {"field": "x", "type": "quantitative"}, "y": {"field": "y", "type": "quantitative"}, "x2": {"field": "x2"}, "y2": {"field": "y2"}, "strokeDash": {"field": "style", "type": "nominal", "scale": {"domain": ["solid", "dashed"], "range": [[1, 0], [5, 3]]}, "legend": null}}},
        {"data": {"name": "edges"}, "transform": [{"filter": "datum.model == 'Adequate'"}], "mark": {"type": "point", "shape": "M0,0L-0.55,1.6L0.55,1.6Z", "size": 70, "filled": true, "color": "#222", "opacity": 1},
         "encoding": {"x": {"field": "x2", "type": "quantitative"}, "y": {"field": "y2", "type": "quantitative"}, "angle": {"field": "angle", "type": "quantitative", "scale": null}}}
      ]
    },
    {
      "width": 187, "height": 118,
      "title": {"text": "Intermediate model", "anchor": "middle", "frame": "group", "dx": -4.5, "offset": -18, "fontSize": 13, "fontWeight": "normal", "color": "#333"},
      "layer": [
        {"data": {"name": "nodes"}, "mark": {"type": "point", "shape": "M-1,-0.5L1,-0.5L1,0.5L-1,0.5Z", "size": 4096, "filled": true, "fill": "white", "stroke": "#555", "strokeWidth": 1, "opacity": 1},
         "encoding": {"x": {"field": "x", "type": "quantitative", "scale": {"domain": [0, 100]}, "axis": null}, "y": {"field": "y", "type": "quantitative", "scale": {"domain": [0, 100], "reverse": true}, "axis": null}}},
        {"data": {"name": "nodes"}, "mark": {"type": "text", "fontSize": 13, "color": "#222", "align": "center", "baseline": "alphabetic", "dx": -1, "dy": 5},
         "encoding": {"x": {"field": "x", "type": "quantitative"}, "y": {"field": "y", "type": "quantitative"}, "text": {"field": "var"}}},
        {"data": {"name": "nodes"}, "mark": {"type": "text", "fontSize": 9, "color": "#222", "align": "left", "baseline": "alphabetic", "dx": 5, "dy": 7},
         "encoding": {"x": {"field": "x", "type": "quantitative"}, "y": {"field": "y", "type": "quantitative"}, "text": {"field": "sub"}}},
        {"data": {"name": "edges"}, "transform": [{"filter": "datum.model == 'Intermediate'"}], "mark": {"type": "rule", "color": "#222", "strokeWidth": 1},
         "encoding": {"x": {"field": "x", "type": "quantitative"}, "y": {"field": "y", "type": "quantitative"}, "x2": {"field": "x2"}, "y2": {"field": "y2"}, "strokeDash": {"field": "style", "type": "nominal", "scale": {"domain": ["solid", "dashed"], "range": [[1, 0], [5, 3]]}, "legend": null}}},
        {"data": {"name": "edges"}, "transform": [{"filter": "datum.model == 'Intermediate'"}], "mark": {"type": "point", "shape": "M0,0L-0.55,1.6L0.55,1.6Z", "size": 70, "filled": true, "color": "#222", "opacity": 1},
         "encoding": {"x": {"field": "x2", "type": "quantitative"}, "y": {"field": "y2", "type": "quantitative"}, "angle": {"field": "angle", "type": "quantitative", "scale": null}}}
      ]
    },
    {
      "width": 187, "height": 118,
      "title": {"text": "Inadequate model", "anchor": "middle", "frame": "group", "dx": -7.5, "offset": -18, "fontSize": 13, "fontWeight": "normal", "color": "#333"},
      "layer": [
        {"data": {"name": "nodes"}, "mark": {"type": "point", "shape": "M-1,-0.5L1,-0.5L1,0.5L-1,0.5Z", "size": 4096, "filled": true, "fill": "white", "stroke": "#555", "strokeWidth": 1, "opacity": 1},
         "encoding": {"x": {"field": "x", "type": "quantitative", "scale": {"domain": [0, 100]}, "axis": null}, "y": {"field": "y", "type": "quantitative", "scale": {"domain": [0, 100], "reverse": true}, "axis": null}}},
        {"data": {"name": "nodes"}, "mark": {"type": "text", "fontSize": 13, "color": "#222", "align": "center", "baseline": "alphabetic", "dx": -1, "dy": 5},
         "encoding": {"x": {"field": "x", "type": "quantitative"}, "y": {"field": "y", "type": "quantitative"}, "text": {"field": "var"}}},
        {"data": {"name": "nodes"}, "mark": {"type": "text", "fontSize": 9, "color": "#222", "align": "left", "baseline": "alphabetic", "dx": 5, "dy": 7},
         "encoding": {"x": {"field": "x", "type": "quantitative"}, "y": {"field": "y", "type": "quantitative"}, "text": {"field": "sub"}}},
        {"data": {"name": "edges"}, "transform": [{"filter": "datum.model == 'Inadequate'"}], "mark": {"type": "rule", "color": "#222", "strokeWidth": 1},
         "encoding": {"x": {"field": "x", "type": "quantitative"}, "y": {"field": "y", "type": "quantitative"}, "x2": {"field": "x2"}, "y2": {"field": "y2"}, "strokeDash": {"field": "style", "type": "nominal", "scale": {"domain": ["solid", "dashed"], "range": [[1, 0], [5, 3]]}, "legend": null}}},
        {"data": {"name": "edges"}, "transform": [{"filter": "datum.model == 'Inadequate'"}], "mark": {"type": "point", "shape": "M0,0L-0.55,1.6L0.55,1.6Z", "size": 70, "filled": true, "color": "#222", "opacity": 1},
         "encoding": {"x": {"field": "x2", "type": "quantitative"}, "y": {"field": "y2", "type": "quantitative"}, "angle": {"field": "angle", "type": "quantitative", "scale": null}}}
      ]
    },
    {
      "width": 187, "height": 167,
      "title": {"text": "B", "anchor": "start", "frame": "group", "dx": -24, "offset": 2, "fontSize": 12, "fontWeight": "normal", "color": "#333"},
      "data": {"name": "freq"},
      "transform": [{"filter": "datum.model == 'Adequate'"}],
      "mark": {"type": "bar", "stroke": "#777", "strokeWidth": 0.8},
      "encoding": {
        "x": {"field": "method", "type": "nominal", "scale": {"domain": ["Path analysis", "Clustering-based path analysis", "D-sep test", "Permutation-based d-sep test"], "paddingInner": 0.1667, "paddingOuter": 0.153},
              "axis": {"title": null, "domain": false, "ticks": false, "labelAngle": -45, "labelAlign": "right", "labelBaseline": "middle", "labelPadding": 1, "labelOffset": 7, "labelFontSize": 8, "labelColor": "#333", "labelLimit": 0,
                       "labelExpr": "datum.label == 'Clustering-based path analysis' ? ['Clustering-based', 'path analysis'] : datum.label == 'Permutation-based d-sep test' ? ['Permutation-based', 'd-sep test'] : datum.label"}},
        "y": {"field": "freq", "type": "quantitative", "stack": "zero", "scale": {"domain": [0, 1], "nice": false},
              "axis": {"values": [0, 0.2, 0.4, 0.6, 0.8, 1], "format": ".1f", "tickSize": 4, "labelAngle": -90, "labelAlign": "center", "labelBaseline": "bottom", "labelPadding": 1, "labelFontSize": 7, "labelColor": "#555", "labelOverlap": false, "labelFlush": false, "domainColor": "#888", "tickColor": "#888", "title": "Frequency", "titleFontSize": 11, "titleFontWeight": "normal", "titleColor": "#333", "titlePadding": 2}},
        "color": {"field": "outcome", "type": "nominal", "scale": {"domain": ["Accepted", "Borderline", "Rejected"], "range": ["#e5e5e5", "#b3b3b3", "#333333"]}, "legend": null},
        "order": {"field": "outcome", "sort": "ascending"}
      }
    },
    {
      "width": 187, "height": 167,
      "data": {"name": "freq"},
      "transform": [{"filter": "datum.model == 'Intermediate'"}],
      "mark": {"type": "bar", "stroke": "#777", "strokeWidth": 0.8},
      "encoding": {
        "x": {"field": "method", "type": "nominal", "scale": {"domain": ["Path analysis", "Clustering-based path analysis", "D-sep test", "Permutation-based d-sep test"], "paddingInner": 0.1667, "paddingOuter": 0.153},
              "axis": {"title": null, "domain": false, "ticks": false, "labelAngle": -45, "labelAlign": "right", "labelBaseline": "middle", "labelPadding": 1, "labelOffset": 7, "labelFontSize": 8, "labelColor": "#333", "labelLimit": 0,
                       "labelExpr": "datum.label == 'Clustering-based path analysis' ? ['Clustering-based', 'path analysis'] : datum.label == 'Permutation-based d-sep test' ? ['Permutation-based', 'd-sep test'] : datum.label"}},
        "y": {"field": "freq", "type": "quantitative", "stack": "zero", "scale": {"domain": [0, 1], "nice": false},
              "axis": {"values": [0, 0.2, 0.4, 0.6, 0.8, 1], "labels": false, "tickSize": 4, "domainColor": "#888", "tickColor": "#888", "title": null}},
        "color": {"field": "outcome", "type": "nominal", "scale": {"domain": ["Accepted", "Borderline", "Rejected"], "range": ["#e5e5e5", "#b3b3b3", "#333333"]}, "legend": null},
        "order": {"field": "outcome", "sort": "ascending"}
      }
    },
    {
      "width": 187, "height": 167,
      "data": {"name": "freq"},
      "transform": [{"filter": "datum.model == 'Inadequate'"}],
      "mark": {"type": "bar", "stroke": "#777", "strokeWidth": 0.8},
      "encoding": {
        "x": {"field": "method", "type": "nominal", "scale": {"domain": ["Path analysis", "Clustering-based path analysis", "D-sep test", "Permutation-based d-sep test"], "paddingInner": 0.1667, "paddingOuter": 0.153},
              "axis": {"title": null, "domain": false, "ticks": false, "labelAngle": -45, "labelAlign": "right", "labelBaseline": "middle", "labelPadding": 1, "labelOffset": 7, "labelFontSize": 8, "labelColor": "#333", "labelLimit": 0,
                       "labelExpr": "datum.label == 'Clustering-based path analysis' ? ['Clustering-based', 'path analysis'] : datum.label == 'Permutation-based d-sep test' ? ['Permutation-based', 'd-sep test'] : datum.label"}},
        "y": {"field": "freq", "type": "quantitative", "stack": "zero", "scale": {"domain": [0, 1], "nice": false},
              "axis": {"values": [0, 0.2, 0.4, 0.6, 0.8, 1], "labels": false, "tickSize": 4, "domainColor": "#888", "tickColor": "#888", "title": null}},
        "color": {"field": "outcome", "type": "nominal", "scale": {"domain": ["Accepted", "Borderline", "Rejected"], "range": ["#e5e5e5", "#b3b3b3", "#333333"]}, "legend": null},
        "order": {"field": "outcome", "sort": "ascending"}
      }
    },
    {
      "width": 187, "height": 167,
      "view": {"stroke": "#888", "strokeWidth": 1},
      "title": {"text": "C", "anchor": "start", "frame": "group", "dx": -24, "offset": 6, "fontSize": 12, "fontWeight": "normal", "color": "#333"},
      "resolve": {"axis": {"y": "independent"}},
      "encoding": {
        "x": {"field": "method", "type": "nominal", "scale": {"domain": ["Path analysis", "Clustering-based path analysis", "D-sep test", "Permutation-based d-sep test"], "paddingInner": 0, "paddingOuter": 0.16},
              "axis": {"title": null, "domain": false, "ticks": false, "labelAngle": -45, "labelAlign": "right", "labelBaseline": "middle", "labelPadding": 2, "labelOffset": 5, "labelFontSize": 8, "labelColor": "#333", "labelLimit": 0,
                       "labelExpr": "datum.label == 'Clustering-based path analysis' ? ['Clustering-based', 'path analysis'] : datum.label == 'Permutation-based d-sep test' ? ['Permutation-based', 'd-sep test'] : datum.label"}}
      },
      "layer": [
        {"data": {"name": "box"}, "transform": [{"filter": "datum.model == 'Adequate'"}], "mark": {"type": "rule", "strokeDash": [2, 2], "color": "#999"},
         "encoding": {"y": {"field": "q3", "type": "quantitative", "scale": {"domain": [-0.04, 1.04], "nice": false, "zero": false},
                            "axis": {"values": [0, 0.2, 0.4, 0.6, 0.8, 1], "format": ".1f", "domain": false, "tickSize": 4, "labelAngle": -90, "labelAlign": "center", "labelBaseline": "bottom", "labelPadding": 1, "labelFontSize": 7, "labelColor": "#555", "labelOverlap": false, "labelFlush": false, "tickColor": "#888", "title": "P-values", "titleFontSize": 11, "titleFontWeight": "normal", "titleColor": "#333", "titlePadding": 2}},
                      "y2": {"field": "upper"}}},
        {"data": {"name": "box"}, "transform": [{"filter": "datum.model == 'Adequate'"}], "mark": {"type": "rule", "strokeDash": [2, 2], "color": "#999"},
         "encoding": {"y": {"field": "lower", "type": "quantitative", "axis": null}, "y2": {"field": "q1"}}},
        {"data": {"name": "box"}, "transform": [{"filter": "datum.model == 'Adequate'"}], "mark": {"type": "tick", "size": 17, "thickness": 1, "color": "#777", "opacity": 1},
         "encoding": {"y": {"field": "upper", "type": "quantitative", "axis": null}}},
        {"data": {"name": "box"}, "transform": [{"filter": "datum.model == 'Adequate'"}], "mark": {"type": "tick", "size": 17, "thickness": 1, "color": "#777", "opacity": 1},
         "encoding": {"y": {"field": "lower", "type": "quantitative", "axis": null}}},
        {"data": {"name": "box"}, "transform": [{"filter": "datum.model == 'Adequate'"}], "mark": {"type": "bar", "fill": "white", "stroke": "#666", "strokeWidth": 1, "width": {"band": 0.8}},
         "encoding": {"y": {"field": "q1", "type": "quantitative", "axis": null}, "y2": {"field": "q3"}}},
        {"data": {"name": "outliers"}, "transform": [{"filter": "datum.model == 'Adequate'"}], "mark": {"type": "point", "filled": false, "stroke": "#666", "strokeWidth": 0.6, "size": 7, "opacity": 1},
         "encoding": {"y": {"field": "p", "type": "quantitative", "axis": null}}},
        {"data": {"name": "box"}, "transform": [{"filter": "datum.model == 'Adequate'"}], "mark": {"type": "tick", "size": 35, "thickness": 2, "color": "#222", "opacity": 1},
         "encoding": {"y": {"field": "median", "type": "quantitative", "axis": null}}}
      ]
    },
    {
      "width": 187, "height": 167,
      "view": {"stroke": "#888", "strokeWidth": 1},
      "resolve": {"axis": {"y": "independent"}},
      "encoding": {
        "x": {"field": "method", "type": "nominal", "scale": {"domain": ["Path analysis", "Clustering-based path analysis", "D-sep test", "Permutation-based d-sep test"], "paddingInner": 0, "paddingOuter": 0.16},
              "axis": {"title": null, "domain": false, "ticks": false, "labelAngle": -45, "labelAlign": "right", "labelBaseline": "middle", "labelPadding": 2, "labelOffset": 5, "labelFontSize": 8, "labelColor": "#333", "labelLimit": 0,
                       "labelExpr": "datum.label == 'Clustering-based path analysis' ? ['Clustering-based', 'path analysis'] : datum.label == 'Permutation-based d-sep test' ? ['Permutation-based', 'd-sep test'] : datum.label"}}
      },
      "layer": [
        {"data": {"name": "box"}, "transform": [{"filter": "datum.model == 'Intermediate'"}], "mark": {"type": "rule", "strokeDash": [2, 2], "color": "#999"},
         "encoding": {"y": {"field": "q3", "type": "quantitative", "scale": {"domain": [-0.04, 1.04], "nice": false, "zero": false},
                            "axis": {"values": [0, 0.2, 0.4, 0.6, 0.8, 1], "labels": false, "domain": false, "tickSize": 4, "tickColor": "#888", "title": null}},
                      "y2": {"field": "upper"}}},
        {"data": {"name": "box"}, "transform": [{"filter": "datum.model == 'Intermediate'"}], "mark": {"type": "rule", "strokeDash": [2, 2], "color": "#999"},
         "encoding": {"y": {"field": "lower", "type": "quantitative", "axis": null}, "y2": {"field": "q1"}}},
        {"data": {"name": "box"}, "transform": [{"filter": "datum.model == 'Intermediate'"}], "mark": {"type": "tick", "size": 17, "thickness": 1, "color": "#777", "opacity": 1},
         "encoding": {"y": {"field": "upper", "type": "quantitative", "axis": null}}},
        {"data": {"name": "box"}, "transform": [{"filter": "datum.model == 'Intermediate'"}], "mark": {"type": "tick", "size": 17, "thickness": 1, "color": "#777", "opacity": 1},
         "encoding": {"y": {"field": "lower", "type": "quantitative", "axis": null}}},
        {"data": {"name": "box"}, "transform": [{"filter": "datum.model == 'Intermediate'"}], "mark": {"type": "bar", "fill": "white", "stroke": "#666", "strokeWidth": 1, "width": {"band": 0.8}},
         "encoding": {"y": {"field": "q1", "type": "quantitative", "axis": null}, "y2": {"field": "q3"}}},
        {"data": {"name": "outliers"}, "transform": [{"filter": "datum.model == 'Intermediate'"}], "mark": {"type": "point", "filled": false, "stroke": "#666", "strokeWidth": 0.6, "size": 7, "opacity": 1},
         "encoding": {"y": {"field": "p", "type": "quantitative", "axis": null}}},
        {"data": {"name": "box"}, "transform": [{"filter": "datum.model == 'Intermediate'"}], "mark": {"type": "tick", "size": 35, "thickness": 2, "color": "#222", "opacity": 1},
         "encoding": {"y": {"field": "median", "type": "quantitative", "axis": null}}}
      ]
    },
    {
      "width": 187, "height": 167,
      "view": {"stroke": "#888", "strokeWidth": 1},
      "resolve": {"axis": {"y": "independent"}},
      "encoding": {
        "x": {"field": "method", "type": "nominal", "scale": {"domain": ["Path analysis", "Clustering-based path analysis", "D-sep test", "Permutation-based d-sep test"], "paddingInner": 0, "paddingOuter": 0.16},
              "axis": {"title": null, "domain": false, "ticks": false, "labelAngle": -45, "labelAlign": "right", "labelBaseline": "middle", "labelPadding": 2, "labelOffset": 5, "labelFontSize": 8, "labelColor": "#333", "labelLimit": 0,
                       "labelExpr": "datum.label == 'Clustering-based path analysis' ? ['Clustering-based', 'path analysis'] : datum.label == 'Permutation-based d-sep test' ? ['Permutation-based', 'd-sep test'] : datum.label"}}
      },
      "layer": [
        {"data": {"name": "box"}, "transform": [{"filter": "datum.model == 'Inadequate'"}], "mark": {"type": "rule", "strokeDash": [2, 2], "color": "#999"},
         "encoding": {"y": {"field": "q3", "type": "quantitative", "scale": {"domain": [-0.04, 1.04], "nice": false, "zero": false},
                            "axis": {"values": [0, 0.2, 0.4, 0.6, 0.8, 1], "labels": false, "domain": false, "tickSize": 4, "tickColor": "#888", "title": null}},
                      "y2": {"field": "upper"}}},
        {"data": {"name": "box"}, "transform": [{"filter": "datum.model == 'Inadequate'"}], "mark": {"type": "rule", "strokeDash": [2, 2], "color": "#999"},
         "encoding": {"y": {"field": "lower", "type": "quantitative", "axis": null}, "y2": {"field": "q1"}}},
        {"data": {"name": "box"}, "transform": [{"filter": "datum.model == 'Inadequate'"}], "mark": {"type": "tick", "size": 17, "thickness": 1, "color": "#777", "opacity": 1},
         "encoding": {"y": {"field": "upper", "type": "quantitative", "axis": null}}},
        {"data": {"name": "box"}, "transform": [{"filter": "datum.model == 'Inadequate'"}], "mark": {"type": "tick", "size": 17, "thickness": 1, "color": "#777", "opacity": 1},
         "encoding": {"y": {"field": "lower", "type": "quantitative", "axis": null}}},
        {"data": {"name": "box"}, "transform": [{"filter": "datum.model == 'Inadequate'"}], "mark": {"type": "bar", "fill": "white", "stroke": "#666", "strokeWidth": 1, "width": {"band": 0.8}},
         "encoding": {"y": {"field": "q1", "type": "quantitative", "axis": null}, "y2": {"field": "q3"}}},
        {"data": {"name": "outliers"}, "transform": [{"filter": "datum.model == 'Inadequate'"}], "mark": {"type": "point", "filled": false, "stroke": "#666", "strokeWidth": 0.6, "size": 7, "opacity": 1},
         "encoding": {"y": {"field": "p", "type": "quantitative", "axis": null}}},
        {"data": {"name": "box"}, "transform": [{"filter": "datum.model == 'Inadequate'"}], "mark": {"type": "tick", "size": 35, "thickness": 2, "color": "#222", "opacity": 1},
         "encoding": {"y": {"field": "median", "type": "quantitative", "axis": null}}}
      ]
    }
  ],
  "config": {
    "font": "DejaVu Sans",
    "view": {"stroke": null},
    "axis": {"grid": false, "labelFont": "DejaVu Sans", "titleFont": "DejaVu Sans"},
    "title": {"font": "DejaVu Sans"}
  }
}
